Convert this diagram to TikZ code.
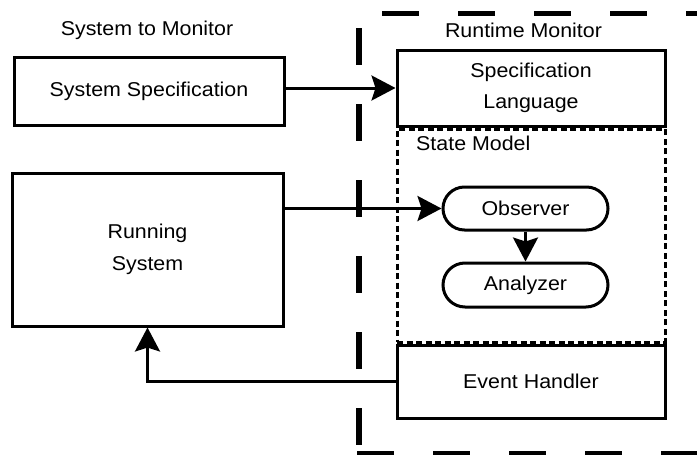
\documentclass[tikz,border=0pt]{standalone}
\usepackage{fontspec}
\setmainfont{Liberation Sans}[FakeStretch=1.07]
\usetikzlibrary{arrows.meta,shapes.misc}
\begin{document}
\begin{tikzpicture}[x=1pt,y=-1pt,
  lbl/.style={font=\fontsize{20}{31.5}\selectfont, align=center, inner sep=0pt},
  block/.style={lbl, draw, line width=3pt, rectangle},
  pill/.style={lbl, draw, line width=3pt, rounded rectangle, minimum width=165pt},
  dotbox/.style={draw, line width=3pt, dash pattern=on 6pt off 3.5pt, rectangle, inner sep=0pt},
  flow/.style={line width=3pt, -{Stealth[length=24pt,width=25pt,inset=4pt]}},
  frame/.style={line width=5.5pt, dash pattern=on 37pt off 39pt}]
\useasboundingbox (0,0) rectangle (697,455);
\clip (0,0) rectangle (697,455);

% outer boundary of the runtime monitor
\draw[frame] (359,28) -- (359,470);
\draw[frame] (382,13.3) -- (720,13.3);
\draw[frame] (357,454) -- (720,454);

% headings
\node[lbl, anchor=base] (hsys) at (147,35) {System to Monitor};
\node[lbl, anchor=base] (hmon) at (523.5,37) {Runtime Monitor};

% system side
\node[block, minimum width=270pt, minimum height=68pt] (sysspec) at (149,91) {System Specification};
\node[block, minimum width=271pt, minimum height=153pt] (running) at (147.5,249.5) {Running\\System};

% monitor side
\node[dotbox, minimum width=268pt, minimum height=213pt] (state) at (531,235.5) {};
\node[lbl, anchor=base west] (statelbl) at (416,150) {State Model};
\node[block, minimum width=268pt, minimum height=76pt] (speclang) at (531,88) {Specification\\Language};
\node[block, minimum width=268pt, minimum height=73pt] (handler) at (531,381.5) {Event Handler};
\node[pill, minimum height=43pt] (observer) at (525.5,208.5) {Observer};
\node[pill, minimum height=44pt] (analyzer) at (525.5,285) {Analyzer};

% connectors
\draw[flow] (sysspec.east |- speclang.west) -- (speclang.west);
\draw[flow] (running.east |- observer.west) -- (observer.west);
\draw[flow] (observer.south) -- (analyzer.north);
\draw[flow] (handler.west) -| (running.south);
\end{tikzpicture}
\end{document}
